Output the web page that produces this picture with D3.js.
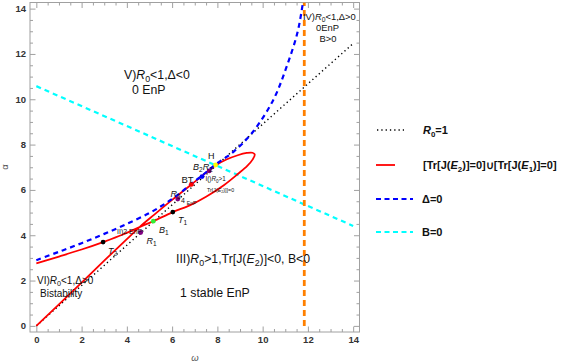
<!DOCTYPE html>
<html><head><meta charset="utf-8">
<script src="https://cdn.jsdelivr.net/npm/d3@7"></script>
<style>
html,body{margin:0;padding:0;background:#fff;}
svg{display:block;font-family:"Liberation Sans",Arial,sans-serif;}
</style></head>
<body><svg id="chart" width="564" height="364"></svg>
<script>
// ---------- data ----------
const omegaTicks = [0, 2, 4, 6, 8, 10, 12, 14];
const alphaTicks = [0, 2, 4, 6, 8, 10, 12, 14];
// R0 = 1 (black dotted)
const r0Line = [[0, 0], [14, 12.46]];
// Tr[J(E2)]=0 ∪ Tr[J(E1)]=0 (red) : upper branch from origin, loop tip, back along lower branch to the left edge
const trCurve = [[0, 0], [1, 0.95], [2, 1.91], [3, 2.88], [4, 3.83], [4.56, 4.36], [5.2, 4.9], [6.0, 5.56],
  [6.85, 6.24], [7.4, 6.68], [7.92, 7.08], [8.4, 7.34], [8.9, 7.53], [9.3, 7.63], [9.55, 7.64], [9.65, 7.56],
  [9.57, 7.36], [9.32, 7.06], [8.9, 6.7], [8.3, 6.22], [7.5, 5.7], [6.8, 5.33], [6.03, 5.02], [5.17, 4.62],
  [4.56, 4.36], [3.8, 4.02], [2.95, 3.70], [2, 3.37], [1, 3.06], [0, 2.76]];
// Δ = 0 (blue dashed)
const deltaCurve = [[0, 2.9], [1, 3.27], [2, 3.65], [3, 4.06], [4, 4.5], [5, 4.98], [5.7, 5.4], [6.25, 5.78],
  [6.85, 6.27], [7.32, 6.63], [7.92, 7.12], [8.71, 7.68], [9.52, 8.5], [10.47, 9.97], [11.06, 11.44],
  [11.53, 12.91], [11.73, 13.94], [11.78, 14.27]];
// B = 0 (cyan dashed)
const bLine = [[0, 10.58], [14, 4.41]];
// vertical orange dashed line
const orangeLine = [[11.84, 0], [11.84, 14.27]];
// special points
const pointNames  = ["H", "B2R2", "I", "BT", "R3", "T1", "B1", "R1", "T2"];
const pointOmega  = [7.92, 7.64, 7.32, 6.85, 6.25, 6.03, 5.17, 4.61, 2.95];
const pointAlpha  = [7.10, 6.84, 6.59, 6.24, 5.60, 5.02, 4.62, 4.12, 3.70];
const pointColors = ["#ffff00", "#800080", "#0000ff", "#ff0000", "#800080", "#000000", "#33ee33", "#800080", "#000000"];

// ---------- setup ----------
const svg = d3.select("#chart");
const L = 30, R = 359.5, T = 2.5, B = 332;
const x = d3.scaleLinear().domain([-0.28, 14.28]).range([L, R]);
const y = d3.scaleLinear().domain([-0.27, 14.27]).range([B, T]);

svg.append("defs").append("clipPath").attr("id", "clip")
  .append("rect").attr("x", L).attr("y", T).attr("width", R - L).attr("height", B - T);

const frameColor = "#a0a0a0";
const labelColor = "#333";
const minor = d3.range(0, 14.3, 0.5).filter(v => v % 2 !== 0);

const bottomMaj = d3.axisBottom(x).tickValues(omegaTicks).tickSize(-5.5).tickPadding(4).tickFormat(d3.format("d"));
const bottomMin = d3.axisBottom(x).tickValues(minor).tickSize(-3).tickFormat("");
const topMaj = d3.axisTop(x).tickValues(omegaTicks).tickSize(-5.5).tickFormat("");
const topMin = d3.axisTop(x).tickValues(minor).tickSize(-3).tickFormat("");
const leftMaj = d3.axisLeft(y).tickValues(alphaTicks).tickSize(-5.5).tickPadding(4).tickFormat(d3.format("d"));
const leftMin = d3.axisLeft(y).tickValues(minor).tickSize(-3).tickFormat("");
const rightMaj = d3.axisRight(y).tickValues(alphaTicks).tickSize(-5.5).tickFormat("");
const rightMin = d3.axisRight(y).tickValues(minor).tickSize(-3).tickFormat("");

const axes = [
  [bottomMaj, `translate(0,${B})`], [bottomMin, `translate(0,${B})`],
  [topMaj, `translate(0,${T})`], [topMin, `translate(0,${T})`],
  [leftMaj, `translate(${L},0)`], [leftMin, `translate(${L},0)`],
  [rightMaj, `translate(${R},0)`], [rightMin, `translate(${R},0)`]
];
axes.forEach(([a, tr]) => {
  const g = svg.append("g").attr("transform", tr).call(a);
  g.select(".domain").remove();
  g.selectAll("line").attr("stroke", frameColor).attr("stroke-width", 1);
  g.selectAll("text").attr("fill", labelColor).attr("font-size", 9.5).attr("font-weight", "bold")
    .attr("font-family", "Liberation Sans, Arial, sans-serif");
});
svg.append("rect").attr("x", L).attr("y", T).attr("width", R - L).attr("height", B - T)
  .attr("fill", "none").attr("stroke", frameColor).attr("stroke-width", 1);

// axis titles
svg.append("text").attr("x", 195).attr("y", 361).attr("font-size", 9.5).attr("fill", "#555")
  .attr("font-style", "italic").attr("text-anchor", "middle").text("ω");
svg.append("text").attr("transform", "translate(8,167) rotate(-90)").attr("font-size", 9.5).attr("fill", "#555")
  .attr("text-anchor", "middle").text("α");

// ---------- curves ----------
const plot = svg.append("g").attr("clip-path", "url(#clip)");
const line = d3.line().x(d => x(d[0])).y(d => y(d[1]));
const smooth = d3.line().x(d => x(d[0])).y(d => y(d[1])).curve(d3.curveCatmullRom.alpha(0.5));

plot.append("path").attr("d", line(bLine)).attr("fill", "none").attr("stroke", "#00ffff")
  .attr("stroke-width", 2.2).attr("stroke-dasharray", "5,4");
plot.append("path").attr("d", line(orangeLine)).attr("fill", "none").attr("stroke", "#ff8000")
  .attr("stroke-width", 2.8).attr("stroke-dasharray", "6,4");
plot.append("path").attr("d", line(r0Line)).attr("fill", "none").attr("stroke", "#000")
  .attr("stroke-width", 1.4).attr("stroke-dasharray", "1.3,3");
plot.append("path").attr("d", smooth(trCurve)).attr("fill", "none").attr("stroke", "#ff0000")
  .attr("stroke-width", 1.8);
plot.append("path").attr("d", smooth(deltaCurve)).attr("fill", "none").attr("stroke", "#0000ff")
  .attr("stroke-width", 2.2).attr("stroke-dasharray", "5,4");

plot.selectAll("circle.pt").data(pointNames).enter().append("circle").attr("class", "pt")
  .attr("cx", (d, i) => x(pointOmega[i])).attr("cy", (d, i) => y(pointAlpha[i]))
  .attr("r", 2.4).attr("fill", (d, i) => pointColors[i]);

// ---------- rich text helper ----------
function rich(parent, px, py, parts, fs, opts = {}) {
  const t = parent.append("text").attr("x", px).attr("y", py).attr("font-size", fs)
    .attr("fill", opts.fill || "#111");
  if (opts.weight) t.attr("font-weight", opts.weight);
  if (opts.anchor) t.attr("text-anchor", opts.anchor);
  let shifted = 0;
  parts.forEach(p => {
    const s = t.append("tspan").text(p.t);
    let dy = 0;
    if (p.sub) { s.attr("font-size", fs * 0.72); dy = fs * 0.25 - shifted; shifted = fs * 0.25; }
    else { dy = -shifted; shifted = 0; }
    if (dy !== 0) s.attr("dy", dy);
    if (p.i) s.attr("font-style", "italic");
  });
  return t;
}
const ann = svg.append("g");
// region labels
rich(ann, 124, 79, [{t: "V)"}, {t: "R", i: 1}, {t: "0", sub: 1}, {t: "<1,Δ<0"}], 12.3);
rich(ann, 132, 94, [{t: "0 EnP"}], 12.3);
rich(ann, 303, 20, [{t: "IV)"}, {t: "R", i: 1}, {t: "0", sub: 1}, {t: "<1,Δ>0"}], 9.4);
rich(ann, 316, 31, [{t: "0EnP"}], 9.4);
rich(ann, 319.5, 41.5, [{t: "B>0"}], 9.4);
rich(ann, 176, 263, [{t: "III)"}, {t: "R", i: 1}, {t: "0", sub: 1}, {t: ">1,Tr[J("}, {t: "E", i: 1}, {t: "2", sub: 1}, {t: ")]<0, B<0"}], 12.3);
rich(ann, 180, 297, [{t: "1 stable EnP"}], 12.3);
rich(ann, 37, 283.5, [{t: "VI)"}, {t: "R", i: 1}, {t: "0", sub: 1}, {t: "<1,Δ>0"}], 10);
rich(ann, 40, 297, [{t: "Bistability"}], 10);
// point labels
rich(ann, 208, 159, [{t: "H"}], 9);
rich(ann, 193, 169.5, [{t: "B", i: 1}, {t: "2", sub: 1}, {t: "R", i: 1}, {t: "2", sub: 1}], 9);
rich(ann, 181.5, 182.5, [{t: "BT"}], 9.5);
rich(ann, 205.5, 181, [{t: "I()"}, {t: "R", i: 1}, {t: "0", sub: 1}, {t: ">1"}], 6.3);
rich(ann, 207, 191.5, [{t: "Tr[J("}, {t: "E", i: 1}, {t: "2", sub: 1}, {t: ")]]=0"}], 5.3);
rich(ann, 170.5, 196.5, [{t: "R", i: 1}, {t: "3", sub: 1}], 9);
rich(ann, 181, 203, [{t: "4 "}, {t: "EnP", sub: 1}], 7);
rich(ann, 117, 234, [{t: "II)2 EnP"}], 7);
rich(ann, 146.5, 244, [{t: "R", i: 1}, {t: "1", sub: 1}], 9);
rich(ann, 159, 233, [{t: "B", i: 1}, {t: "1", sub: 1}], 9);
rich(ann, 178, 222.5, [{t: "T", i: 1}, {t: "1", sub: 1}], 9);
rich(ann, 108, 254, [{t: "T", i: 1}, {t: "2", sub: 1}], 9);

// ---------- legend ----------
const leg = svg.append("g");
const legY = [130, 165, 199, 232];
leg.append("line").attr("x1", 377).attr("x2", 404).attr("y1", legY[0]).attr("y2", legY[0])
  .attr("stroke", "#000").attr("stroke-width", 1.4).attr("stroke-dasharray", "1.3,3");
leg.append("line").attr("x1", 376).attr("x2", 395).attr("y1", legY[1]).attr("y2", legY[1])
  .attr("stroke", "#ff0000").attr("stroke-width", 1.8);
leg.append("line").attr("x1", 376).attr("x2", 413).attr("y1", legY[2]).attr("y2", legY[2])
  .attr("stroke", "#0000ff").attr("stroke-width", 2.2).attr("stroke-dasharray", "5,3.5");
leg.append("line").attr("x1", 376).attr("x2", 413).attr("y1", legY[3]).attr("y2", legY[3])
  .attr("stroke", "#00ffff").attr("stroke-width", 2.2).attr("stroke-dasharray", "5,3.5");
rich(leg, 423, legY[0] + 4, [{t: "R", i: 1}, {t: "0", sub: 1}, {t: "=1"}], 11, {weight: "bold"});
rich(leg, 423, legY[1] + 4, [{t: "[Tr[J("}, {t: "E", i: 1}, {t: "2", sub: 1}, {t: ")]=0]∪[Tr[J("}, {t: "E", i: 1}, {t: "1", sub: 1}, {t: ")]=0]"}], 11, {weight: "bold"});
rich(leg, 422, legY[2] + 4, [{t: "Δ=0"}], 11, {weight: "bold"});
rich(leg, 422, legY[3] + 4, [{t: "B=0"}], 11, {weight: "bold"});
</script>
</body></html>
